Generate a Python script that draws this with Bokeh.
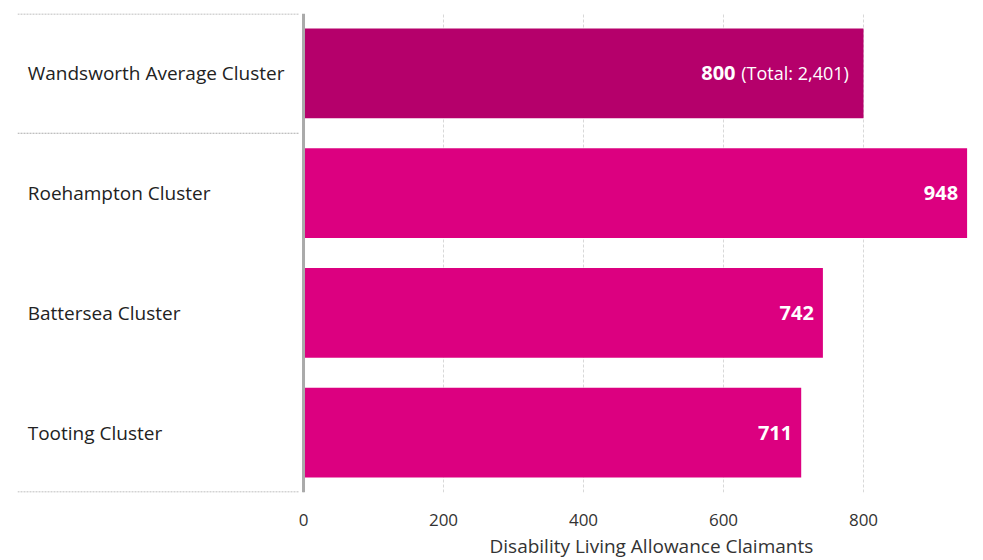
from bokeh.plotting import figure
from bokeh.models import ColumnDataSource, FactorRange, Range1d, FixedTicker, Span, Title
from bokeh.core.properties import value
from bokeh.embed import file_html
from bokeh.resources import INLINE

# ---- data ----
categories = ["Wandsworth Average Cluster", "Roehampton Cluster", "Battersea Cluster", "Tooting Cluster"]
claimants = [800, 948, 742, 711]
suffixes = [" (Total: 2,401)", "", "", ""]
x_ticks = [0, 200, 400, 600, 800]
x_title = "Disability Living Allowance Claimants"

# ---- style ----
FONT = "Open Sans"
HIGHLIGHT = "#B5006B"
BAR = "#DC0080"
X_START, X_END = -408.6, 950
LABEL_X = -394
SEP_END = -7
EDGE = 0.4958  # keeps edge separators inside the frame

colors = [HIGHLIGHT if i == 0 else BAR for i in range(len(categories))]
bold_offsets = [-128 if s else -9 for s in suffixes]

src = ColumnDataSource(dict(cat=categories, val=claimants, color=colors,
                            label=[f"{v:,}" for v in claimants], suffix=suffixes,
                            boff=bold_offsets, lx=[LABEL_X] * len(categories)))

p = figure(frame_width=951, frame_height=479,
           y_range=FactorRange(*reversed(categories)),
           x_range=Range1d(X_START, X_END),
           output_backend="svg", toolbar_location=None,
           y_axis_location=None,
           min_border_left=17, min_border_right=7, min_border_top=13, min_border_bottom=0)
p.outline_line_color = None
p.background_fill_color = "white"
p.border_fill_color = "white"

# grid
p.ygrid.visible = False
p.xgrid.ticker = FixedTicker(ticks=x_ticks)
p.xgrid.grid_line_color = "#d8d8d8"
p.xgrid.grid_line_dash = "3 2"
p.xgrid.grid_line_width = 1

# x axis
ax = p.xaxis[0]
ax.ticker = FixedTicker(ticks=x_ticks)
ax.axis_line_color = None
ax.major_tick_line_color = None
ax.minor_tick_line_color = None
ax.major_label_standoff = 15
ax.major_label_text_font = FONT
ax.major_label_text_font_size = "17px"
ax.major_label_text_color = "#333333"

p.add_layout(Title(text=x_title, align="left", offset=472, text_font=FONT,
                   text_font_size="19px", text_font_style="normal",
                   text_color="#333333", standoff=4), "below")

# bars
p.hbar(y="cat", right="val", left=0, height=0.75, fill_color="color",
       line_color=None, source=src)

# category axis line
p.add_layout(Span(location=0, dimension="height", line_color="#aaaaaa", line_width=3))

# separators (dotted) in label area
sep_y = [(categories[0], EDGE), (categories[0], -0.5), (categories[-1], -EDGE)]
p.segment(x0=[X_START] * 3, x1=[SEP_END] * 3, y0=sep_y, y1=sep_y,
          line_color="#aaaaaa", line_dash="2 1", line_width=1)

# category labels
p.text(x="lx", y="cat", text="cat", source=src, text_align="left",
       text_baseline="middle", text_font=value(FONT), text_font_size="19px",
       text_color="#222222")

# value labels
p.text(x="val", y="cat", text="suffix", source=src, x_offset=-10,
       text_align="right", text_baseline="middle", text_font=value(FONT),
       text_font_size="18px", text_color="white")
p.text(x="val", y="cat", text="label", source=src, x_offset="boff",
       text_align="right", text_baseline="middle", text_font=value(FONT),
       text_font_size="20px", text_font_style="bold", text_color="white")

open("out.html", "w").write(file_html(p, INLINE))
